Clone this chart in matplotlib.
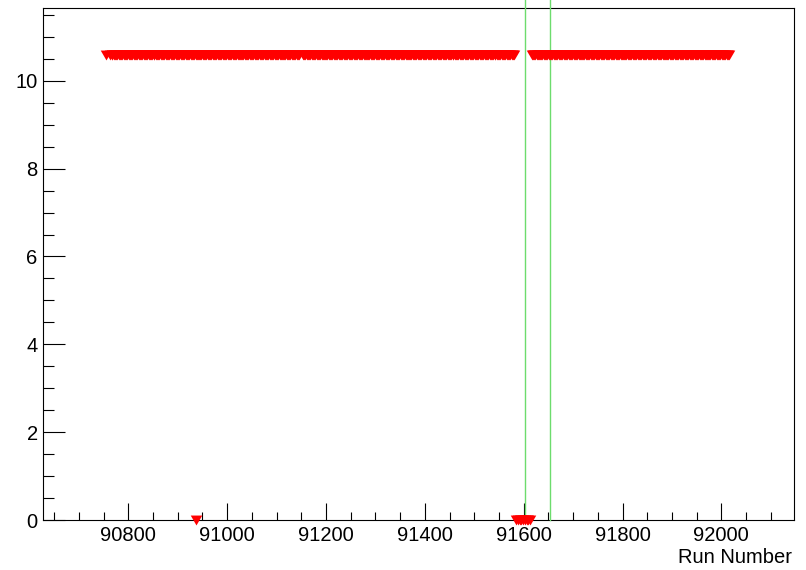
"""Run-by-run monitor: value per run with two marked run boundaries."""

import matplotlib

matplotlib.use("Agg")

import matplotlib.pyplot as plt  # noqa: E402
from matplotlib.ticker import MultipleLocator  # noqa: E402

# ---------------------------------------------------------------------------
# Data
# ---------------------------------------------------------------------------
# runs sitting on the upper plateau
PLATEAU_RUNS = [
    90755, 90763, 90766, 90768,
    90771, 90773, 90776, 90778, 90781, 90783, 90786, 90788, 90791, 90793, 90796, 90798,
    90801, 90803, 90806, 90808, 90811, 90813, 90816, 90818, 90821, 90823, 90826, 90828,
    90831, 90833, 90836, 90838, 90841, 90843, 90846, 90848, 90851, 90853, 90856, 90858,
    90861, 90863, 90866, 90868, 90871, 90873, 90876, 90878, 90881, 90883, 90886, 90888,
    90891, 90893, 90896, 90898, 90901, 90903, 90906, 90908, 90911, 90913, 90916, 90918,
    90921, 90923, 90926, 90928, 90931, 90933, 90936, 90938, 90941, 90943, 90946, 90948,
    90951, 90953, 90956, 90958, 90961, 90963, 90966, 90968, 90971, 90973, 90976, 90978,
    90981, 90983, 90986, 90988, 90991, 90993, 90996, 90998, 91001, 91003, 91006, 91008,
    91011, 91013, 91016, 91018, 91021, 91023, 91026, 91028, 91031, 91033, 91036, 91038,
    91041, 91043, 91046, 91048, 91051, 91053, 91056, 91058, 91061, 91063, 91066, 91068,
    91071, 91073, 91076, 91078, 91081, 91083, 91086, 91088, 91091, 91093, 91096, 91098,
    91101, 91103, 91106, 91108, 91111, 91113, 91116, 91118, 91121, 91123, 91126, 91128,
    91131, 91133, 91136, 91138, 91141, 91143, 91146,
    91153, 91156, 91158,
    91161, 91163, 91166, 91168, 91171, 91173, 91176, 91178, 91181, 91183, 91186, 91188,
    91191, 91193, 91196, 91198, 91201, 91203, 91206, 91208, 91211, 91213, 91216, 91218,
    91221, 91223, 91226, 91228, 91231, 91233, 91236, 91238, 91241, 91243, 91246, 91248,
    91251, 91253, 91256, 91258, 91261, 91263, 91266, 91268, 91271, 91273, 91276, 91278,
    91281, 91283, 91286, 91288, 91291, 91293, 91296, 91298, 91301, 91303, 91306, 91308,
    91311, 91313, 91316, 91318, 91321, 91323, 91326, 91328, 91331, 91333, 91336, 91338,
    91341, 91343, 91346, 91348, 91351, 91353, 91356, 91358, 91361, 91363, 91366, 91368,
    91371, 91373, 91376, 91378, 91381, 91383, 91386, 91388, 91391, 91393, 91396, 91398,
    91401, 91403, 91406, 91408, 91411, 91413, 91416, 91418, 91421, 91423, 91426, 91428,
    91431, 91433, 91436, 91438, 91441, 91443, 91446, 91448, 91451, 91453, 91456, 91458,
    91461, 91463, 91466, 91468, 91471, 91473, 91476, 91478, 91481, 91483, 91486, 91488,
    91491, 91493, 91496, 91498, 91501, 91503, 91506, 91508, 91511, 91513, 91516, 91518,
    91521, 91523, 91526, 91528, 91531, 91533, 91536, 91538, 91541, 91543, 91546, 91548,
    91551, 91553, 91556, 91558, 91561, 91563, 91566, 91568, 91571, 91573, 91576, 91578,
    91581,
    91616, 91618,
    91621, 91623, 91626, 91628, 91631, 91633, 91636, 91638, 91641, 91643, 91646, 91648,
    91651, 91653, 91656, 91658, 91661, 91663, 91666, 91668, 91671, 91673, 91676, 91678,
    91681, 91683, 91686, 91688, 91691, 91693, 91696, 91698, 91701, 91703, 91706, 91708,
    91711, 91713, 91716, 91718, 91721, 91723, 91726, 91728, 91731, 91733, 91736, 91738,
    91741, 91743, 91746, 91748, 91751, 91753, 91756, 91758, 91761, 91763, 91766, 91768,
    91771, 91773, 91776, 91778, 91781, 91783, 91786, 91788, 91791, 91793, 91796, 91798,
    91801, 91803, 91806, 91808, 91811, 91813, 91816, 91818, 91821, 91823, 91826, 91828,
    91831, 91833, 91836, 91838, 91841, 91843, 91846, 91848, 91851, 91853, 91856, 91858,
    91861, 91863, 91866, 91868, 91871, 91873, 91876, 91878, 91881, 91883, 91886, 91888,
    91891, 91893, 91896, 91898, 91901, 91903, 91906, 91908, 91911, 91913, 91916, 91918,
    91921, 91923, 91926, 91928, 91931, 91933, 91936, 91938, 91941, 91943, 91946, 91948,
    91951, 91953, 91956, 91958, 91961, 91963, 91966, 91968, 91971, 91973, 91976, 91978,
    91981, 91983, 91986, 91988, 91991, 91993, 91996, 91998, 92001, 92003, 92006, 92008,
    92011, 92013, 92016,
]
PLATEAU_VALUE = 10.59

# runs that dropped to zero
ZERO_RUNS = [90937, 91585, 91588, 91592, 91595, 91599, 91602, 91606, 91609, 91613]
ZERO_VALUE = 0.0

# run boundaries marked with vertical lines
BOUNDARY_RUNS = [91603, 91654]

X_RANGE = (90628, 92147)
Y_RANGE = (0, 11.65)

# ---------------------------------------------------------------------------
# Style
# ---------------------------------------------------------------------------
W, H, DPI = 806, 570, 100
AX_LEFT, AX_RIGHT, AX_TOP, AX_BOTTOM = 43.3, 794.0, 8.3, 520.0  # pixels
MARKER_COLOR = "#ff0000"
LINE_COLOR = "#6ddc6d"
FONT = "Liberation Sans"
FONT_SIZE = 14.5

# down-pointing triangle, a bit wider than tall (ROOT-like marker 23)
TRIANGLE = [(-1.0, 0.86), (1.0, 0.86), (0.0, -0.86), (-1.0, 0.86)]
MARKER_SIZE = 8.3

plt.rcParams["font.family"] = [FONT, "DejaVu Sans"]


def main() -> None:
    fig = plt.figure(figsize=(W / DPI, H / DPI), dpi=DPI)
    ax = fig.add_axes([
        AX_LEFT / W,
        1 - AX_BOTTOM / H,
        (AX_RIGHT - AX_LEFT) / W,
        (AX_BOTTOM - AX_TOP) / H,
    ])

    # scatter keeps sub-pixel marker positions, so the dense band stays smooth
    ax.scatter(
        PLATEAU_RUNS, [PLATEAU_VALUE] * len(PLATEAU_RUNS),
        marker=TRIANGLE, s=MARKER_SIZE ** 2, color=MARKER_COLOR,
        linewidths=0, zorder=4,
    )
    ax.scatter(
        ZERO_RUNS, [ZERO_VALUE] * len(ZERO_RUNS),
        marker=TRIANGLE, s=MARKER_SIZE ** 2, color=MARKER_COLOR,
        linewidths=0, zorder=5, clip_on=False,
    )

    for run in BOUNDARY_RUNS:
        ax.plot([run, run], [Y_RANGE[0], Y_RANGE[1] * 1.05], color=LINE_COLOR,
                lw=1.0, clip_on=False, zorder=3)

    ax.set_xlim(*X_RANGE)
    ax.set_ylim(*Y_RANGE)

    ax.xaxis.set_major_locator(MultipleLocator(200))
    ax.xaxis.set_minor_locator(MultipleLocator(50))
    ax.yaxis.set_major_locator(MultipleLocator(2))
    ax.yaxis.set_minor_locator(MultipleLocator(0.5))

    ax.tick_params(axis="both", which="both", direction="in", width=0.8,
                   top=False, right=False, color="black")
    ax.tick_params(axis="x", which="major", length=12, pad=4.5,
                   labelsize=FONT_SIZE)
    ax.tick_params(axis="x", which="minor", length=6)
    ax.tick_params(axis="y", which="major", length=16, pad=4,
                   labelsize=FONT_SIZE)
    ax.tick_params(axis="y", which="minor", length=8)

    for spine in ax.spines.values():
        spine.set_linewidth(0.8)

    ax.set_xlabel("Run Number", fontsize=FONT_SIZE)
    ax.xaxis.label.set_ha("right")
    ax.xaxis.label.set_va("baseline")
    ax.xaxis.set_label_coords(
        (791.7 - AX_LEFT) / (AX_RIGHT - AX_LEFT),
        (AX_BOTTOM - 563.0) / (AX_BOTTOM - AX_TOP),
    )

    fig.savefig("out.png", dpi=DPI)
    plt.close(fig)


if __name__ == "__main__":
    main()
